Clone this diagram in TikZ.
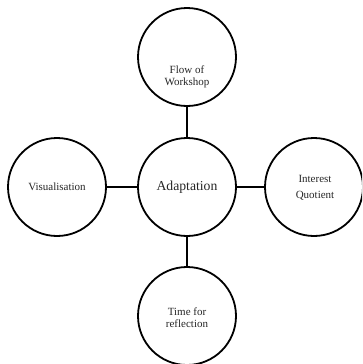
\documentclass[tikz,border=0pt]{standalone}
\usepackage{fontspec}
\setmainfont{Liberation Serif}
\begin{document}
\begin{tikzpicture}[x=1pt,y=-1pt,
  bubble/.style={draw=black, line width=1.8pt, circle, minimum size=98pt, inner sep=0pt},
  small/.style={font=\fontsize{11}{12}\selectfont, align=center, text=black!85},
  wide/.style={font=\fontsize{11}{16}\selectfont, align=center, text=black!85},
  big/.style={font=\fontsize{13.7}{15}\selectfont, text=black!85},
  link/.style={draw=black, line width=1.8pt}]
  \useasboundingbox (0,0) rectangle (362,364);
  \begin{scope}
    \clip (0,0) rectangle (362,364);
    % central concept and its four aspects
    \node[bubble] (hub) at (187,187) {};
    \node[bubble] (top) at (187,57) {};
    \node[bubble] (left) at (57,187) {};
    \node[bubble] (right) at (314,187) {};
    \node[bubble] (bottom) at (187,316) {};
    % captions
    \node[big] (hubtext) at (hub) {Adaptation};
    \node[small] (toptext) at (187,77) {Flow of\\Workshop};
    \node[small] (lefttext) at (left) {Visualisation};
    \node[wide] (righttext) at (315,188) {Interest\\Quotient};
    \node[small] (bottomtext) at (187,318) {Time for\\reflection};
    % spokes
    \draw[link] (hub) -- (top);
    \draw[link] (hub) -- (left);
    \draw[link] (hub) -- (right);
    \draw[link] (hub) -- (bottom);
  \end{scope}
\end{tikzpicture}
\end{document}
